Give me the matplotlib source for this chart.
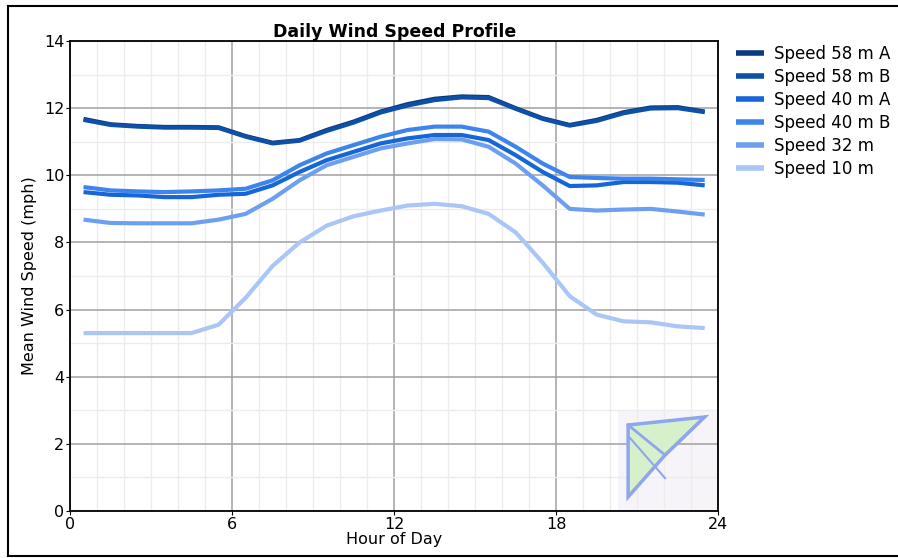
import numpy as np
import matplotlib.pyplot as plt
from matplotlib.patches import Polygon, Rectangle
from matplotlib.ticker import MultipleLocator

# hourly mean values, plotted at the middle of each hour
hours = np.arange(24) + 0.5

speed_58a = [11.68, 11.52, 11.47, 11.44, 11.44, 11.43, 11.17, 10.97, 11.05, 11.35, 11.60, 11.90,
             12.12, 12.28, 12.35, 12.33, 12.00, 11.70, 11.50, 11.65, 11.88, 12.02, 12.03, 11.90]
speed_58b = [11.65, 11.50, 11.45, 11.42, 11.42, 11.41, 11.15, 10.95, 11.03, 11.32, 11.57, 11.87,
             12.08, 12.24, 12.32, 12.30, 11.98, 11.68, 11.48, 11.62, 11.85, 11.99, 12.00, 11.88]
speed_40a = [9.50, 9.42, 9.40, 9.35, 9.35, 9.42, 9.45, 9.70, 10.10, 10.45, 10.70, 10.95,
             11.10, 11.20, 11.20, 11.05, 10.60, 10.10, 9.68, 9.70, 9.80, 9.80, 9.78, 9.70]
speed_40b = [9.65, 9.55, 9.52, 9.50, 9.52, 9.55, 9.60, 9.85, 10.30, 10.65, 10.90, 11.15,
             11.35, 11.45, 11.45, 11.30, 10.85, 10.35, 9.95, 9.92, 9.90, 9.90, 9.88, 9.86]
speed_32 = [8.68, 8.58, 8.57, 8.57, 8.57, 8.68, 8.85, 9.30, 9.85, 10.30, 10.55, 10.80,
            10.95, 11.08, 11.07, 10.85, 10.35, 9.70, 9.00, 8.95, 8.98, 9.00, 8.92, 8.83]
speed_10 = [5.30, 5.30, 5.30, 5.30, 5.30, 5.55, 6.35, 7.30, 8.00, 8.50, 8.78, 8.95,
            9.10, 9.15, 9.08, 8.85, 8.30, 7.40, 6.40, 5.85, 5.65, 5.62, 5.50, 5.45]

series = [
    ("Speed 58 m A", speed_58a, "#0b3b7c"),
    ("Speed 58 m B", speed_58b, "#0e50a8"),
    ("Speed 40 m A", speed_40a, "#1766d8"),
    ("Speed 40 m B", speed_40b, "#3d84ec"),
    ("Speed 32 m", speed_32, "#6d9ff0"),
    ("Speed 10 m", speed_10, "#a9c6f6"),
]

plt.rcParams['font.family'] = ['DejaVu Sans']

fig = plt.figure(figsize=(8.98, 5.58), dpi=100)
ax = fig.add_axes([0.078, 0.0842, 0.7218, 0.8423])

for name, vals, col in series:
    ax.plot(hours, vals, color=col, lw=3.0, label=name, solid_capstyle='butt')

ax.set_xlim(0, 24)
ax.set_ylim(0, 14)
ax.xaxis.set_major_locator(MultipleLocator(6))
ax.xaxis.set_minor_locator(MultipleLocator(1))
ax.yaxis.set_major_locator(MultipleLocator(2))
ax.yaxis.set_minor_locator(MultipleLocator(1))
ax.grid(which='major', color='#a0a0a0', lw=1.1)
ax.grid(which='minor', color='#ececec', lw=1.0)
ax.set_axisbelow(True)
ax.tick_params(which='major', length=3, labelsize=11.5, pad=1)
ax.tick_params(which='minor', length=0)
for sp in ax.spines.values():
    sp.set_linewidth(1.3)

ax.set_title("Daily Wind Speed Profile", fontsize=12.5, fontweight='bold', pad=2)
ax.set_xlabel("Hour of Day", fontsize=11.5, labelpad=0)
ax.set_ylabel("Mean Wind Speed (mph)", fontsize=11.5, labelpad=5)

# faint watermark logo in the lower right corner
ax.add_patch(Rectangle((0.845, 0.0), 0.155, 0.215, transform=ax.transAxes,
                       facecolor='#f6f4f8', edgecolor='none', zorder=0.5))
kite = Polygon([(0.979, 0.2), (0.861, 0.183), (0.861, 0.03), (0.918, 0.119)],
               closed=True, transform=ax.transAxes, facecolor='#d6f0cc',
               edgecolor='#8fa6ec', lw=2.5, zorder=1)
ax.add_patch(kite)
ax.plot([0.861, 0.918, 0.979], [0.183, 0.119, 0.2], transform=ax.transAxes,
        color='#8fa6ec', lw=2, zorder=1)
ax.plot([0.861, 0.918], [0.16, 0.07], transform=ax.transAxes,
        color='#8fa6ec', lw=1.5, zorder=1)

leg = fig.legend(loc='upper left', bbox_to_anchor=(0.803, 0.947), frameon=False,
                 fontsize=12, handlelength=1.7, labelspacing=0.3, handletextpad=0.6)
for line in leg.get_lines():
    line.set_linewidth(4)

# outer frame (open on the right, as in the original)
fig.add_artist(plt.Line2D([0.009, 1.0], [0.989, 0.989], color='black', lw=1.5))
fig.add_artist(plt.Line2D([0.009, 1.0], [0.004, 0.004], color='black', lw=1.5))
fig.add_artist(plt.Line2D([0.009, 0.009], [0.004, 0.989], color='black', lw=1.5))

fig.savefig("out.png", dpi=100)
